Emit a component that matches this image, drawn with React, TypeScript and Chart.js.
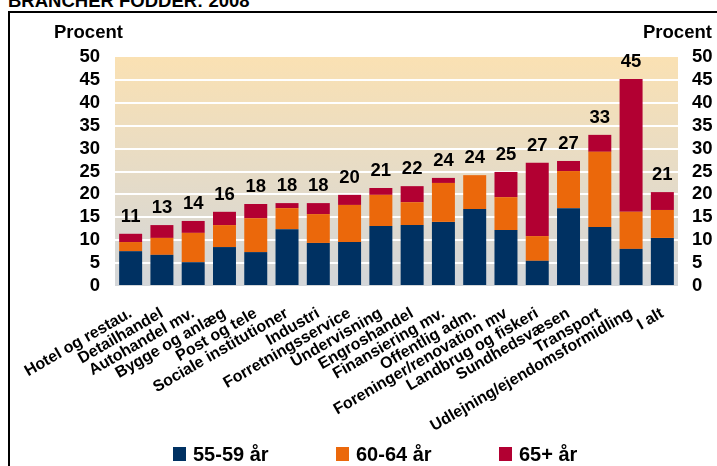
import React, { useEffect, useRef } from "react";
import { Chart, registerables } from "chart.js";

Chart.register(...registerables);

const categories = [
  "Hotel og restau.",
  "Detailhandel",
  "Autohandel mv.",
  "Bygge og anlæg",
  "Post og tele",
  "Sociale institutioner",
  "Industri",
  "Forretningsservice",
  "Undervisning",
  "Engroshandel",
  "Finansiering mv.",
  "Offentlig adm.",
  "Foreninger/renovation mv",
  "Landbrug og fiskeri",
  "Sundhedsvæsen",
  "Transport",
  "Udlejning/ejendomsformidling",
  "I alt",
];

const age55to59 = [7.6, 6.8, 5.2, 8.5, 7.4, 12.4, 9.4, 9.6, 13.1, 13.3, 14.0, 16.8, 12.2, 5.5, 17.0, 12.9, 8.1, 10.5];
const age60to64 = [2.0, 3.7, 6.4, 4.8, 7.4, 4.6, 6.3, 8.1, 6.8, 5.0, 8.5, 7.4, 7.2, 5.4, 8.1, 16.4, 8.1, 6.1];
const age65plus = [1.8, 2.8, 2.6, 2.9, 3.1, 1.1, 2.4, 2.2, 1.5, 3.5, 1.1, 0, 5.5, 16.0, 2.2, 3.7, 29.0, 3.9];
const totalLabels = ["11", "13", "14", "16", "18", "18", "18", "20", "21", "22", "24", "24", "25", "27", "27", "33", "45", "21"];

const seriesNames = ["55-59 år", "60-64 år", "65+ år"];
const seriesColors = ["#003162", "#EB680B", "#B20032"];

const yMin = 0;
const yMax = 50;
const yStep = 5;

const FONT = '"Liberation Sans", Arial, Helvetica, sans-serif';

const bgPlugin = {
  id: "plotBg",
  beforeDraw(chart: any) {
    const { ctx, chartArea } = chart;
    if (!chartArea) return;
    const g = ctx.createLinearGradient(0, chartArea.top, 0, chartArea.bottom);
    g.addColorStop(0, "#FAE1B3");
    g.addColorStop(1, "#D3D6D9");
    ctx.save();
    ctx.fillStyle = g;
    ctx.fillRect(chartArea.left, chartArea.top, chartArea.right - chartArea.left, chartArea.bottom - chartArea.top);
    ctx.restore();
  },
};

const totalsPlugin = {
  id: "totals",
  afterDatasetsDraw(chart: any) {
    const { ctx } = chart;
    const meta = chart.getDatasetMeta(2);
    ctx.save();
    ctx.font = `bold 18.5px ${FONT}`;
    ctx.fillStyle = "#000";
    ctx.textAlign = "center";
    ctx.textBaseline = "alphabetic";
    meta.data.forEach((el: any, i: number) => {
      ctx.fillText(totalLabels[i], el.x, el.y - 12);
    });
    ctx.restore();
  },
};

export default function App() {
  const ref = useRef<HTMLCanvasElement | null>(null);

  useEffect(() => {
    if (!ref.current) return;
    const tickFont = { family: FONT, size: 18.5, weight: "bold" as const };
    const chart = new Chart(ref.current, {
      type: "bar",
      data: {
        labels: categories,
        datasets: [age55to59, age60to64, age65plus].map((d, i) => ({
          label: seriesNames[i],
          data: d,
          backgroundColor: seriesColors[i],
          borderWidth: 0,
          categoryPercentage: 1,
          barPercentage: 0.735,
          yAxisID: "y",
        })),
      },
      options: {
        animation: false,
        responsive: true,
        maintainAspectRatio: false,
        layout: { padding: { top: 44, left: 10, right: 0, bottom: 0 } },
        plugins: {
          legend: { display: false },
          tooltip: { enabled: false },
          title: { display: false },
        },
        scales: {
          x: {
            stacked: true,
            grid: { display: false },
            border: { display: false },
            ticks: {
              autoSkip: false,
              minRotation: 30,
              maxRotation: 30,
              padding: 10,
              color: "#000",
              font: { family: FONT, size: 16, weight: "bold" },
            },
            afterFit(scale: any) {
              scale.height = 180;
              scale.paddingLeft = 0;
              scale.paddingRight = 0;
            },
          },
          y: {
            stacked: true,
            position: "left",
            min: yMin,
            max: yMax,
            grid: {
              drawTicks: false,
              lineWidth: 2,
              color: (c: any) => (c.tick && (c.tick.value === yMin || c.tick.value === yMax) ? "rgba(0,0,0,0)" : "#FFFFFF"),
            },
            border: { display: false },
            ticks: {
              stepSize: yStep,
              autoSkip: false,
              padding: 15,
              color: "#000",
              font: tickFont,
            },
            afterFit(scale: any) {
              scale.width = 95;
            },
          },
          y2: {
            position: "right",
            min: yMin,
            max: yMax,
            grid: { display: false, drawTicks: false },
            border: { display: false },
            ticks: {
              stepSize: yStep,
              autoSkip: false,
              padding: 14,
              color: "#000",
              font: tickFont,
            },
            afterFit(scale: any) {
              scale.width = 39;
            },
          },
        },
      },
      plugins: [bgPlugin, totalsPlugin],
    });
    return () => chart.destroy();
  }, []);

  const textStyle: React.CSSProperties = {
    position: "absolute",
    fontFamily: FONT,
    fontWeight: "bold",
    fontSize: 18.5,
    lineHeight: "20px",
    whiteSpace: "nowrap",
    color: "#000",
  };

  const legendLefts = [173, 336, 499];

  return (
    <div
      style={{
        position: "fixed",
        left: 0,
        top: 0,
        width: 717,
        height: 466,
        overflow: "hidden",
        background: "#fff",
      }}
    >
      <div style={{ ...textStyle, left: 8, top: -9.4 }}>BRANCHER FODDER: 2008</div>
      <div
        style={{
          position: "absolute",
          left: 8,
          top: 11,
          width: 720,
          height: 470,
          borderLeft: "2px solid #000",
          borderTop: "2px solid #000",
          boxSizing: "border-box",
        }}
      />
      <div style={{ position: "absolute", left: 10, top: 13, width: 707, height: 453 }}>
        <canvas ref={ref} />
      </div>
      <div style={{ ...textStyle, left: 54, top: 21.6 }}>Procent</div>
      <div style={{ ...textStyle, left: 643, top: 21.6 }}>Procent</div>
      {seriesNames.map((name, i) => (
        <div key={name} style={{ position: "absolute", left: legendLefts[i], top: 445, height: 16, display: "flex", alignItems: "flex-end" }}>
          <div style={{ width: 13, height: 14, background: seriesColors[i], marginRight: 7 }} />
          <div style={{ fontFamily: FONT, fontWeight: "bold", fontSize: 20, lineHeight: "14px", whiteSpace: "nowrap" }}>{name}</div>
        </div>
      ))}
    </div>
  );
}
